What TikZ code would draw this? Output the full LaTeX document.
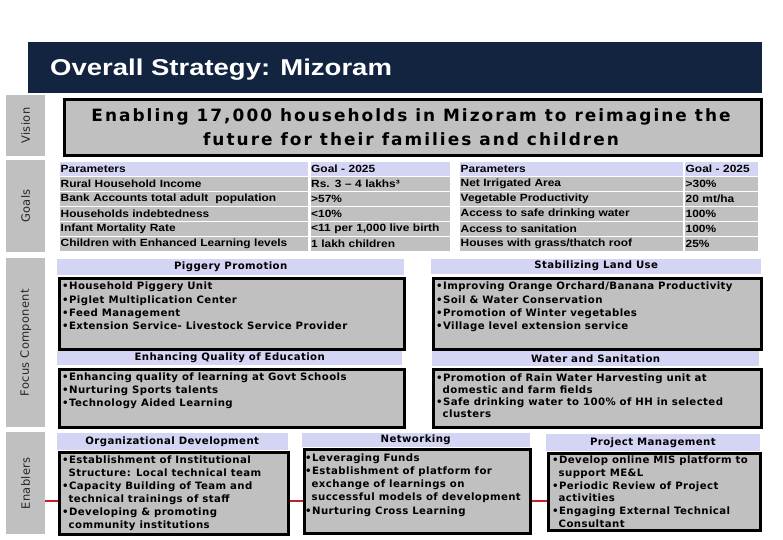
\documentclass[tikz,border=0pt]{standalone}
\usepackage{fontspec}
\setmainfont{DejaVu Sans}
\newfontfamily\titlef[FakeStretch=1.2]{Liberation Sans}
\newfontfamily\tabf[FakeStretch=1.14]{Liberation Sans}
\newfontfamily\visf[LetterSpace=12]{DejaVu Sans}
\newfontfamily\boxf[LetterSpace=4]{DejaVu Sans}
\newfontfamily\stripf[LetterSpace=3]{DejaVu Sans}
\definecolor{navy}{RGB}{18,36,64}
\definecolor{boxgray}{RGB}{192,192,192}
\definecolor{lav}{RGB}{212,212,245}
\definecolor{redline}{RGB}{200,30,40}
\begin{document}
\begin{tikzpicture}[x=1bp,y=-1bp,
  strip/.style={fill=boxgray, draw=none, anchor=north west, inner sep=0, minimum width=39bp},
  striplbl/.style={rotate=90, inner sep=0, text=black!85, font=\stripf\fontsize{11.5}{13}\selectfont},
  hdr/.style={fill=lav, draw=none, anchor=north west, inner sep=0, font=\boxf\bfseries\fontsize{10.2}{12}\selectfont},
  box/.style={fill=boxgray, draw=black, line width=3bp, anchor=north west, inner sep=0},
  btxt/.style={anchor=north west, align=left, inner sep=0, font=\boxf\bfseries\fontsize{10.2}{13.3}\selectfont},
  tcell/.style={anchor=north west, inner xsep=0.5bp, inner ysep=0, minimum height=14bp, align=left, font=\tabf\bfseries\fontsize{10.5}{12}\selectfont},
  hd/.style={tcell, fill=lav},
  rw/.style={tcell, fill=boxgray},
  conn/.style={draw=redline, line width=2.5bp}
]
\useasboundingbox (0,0) rectangle (783,540);

% title bar
\node[fill=navy, anchor=north west, inner sep=0, minimum width=734bp, minimum height=51bp] (titlebar) at (28,42) {};
\node[anchor=base west, inner sep=0, text=white, font=\titlef\bfseries\fontsize{23}{27}\selectfont] (title) at (50,76) {Overall Strategy: Mizoram};

% side strips
\node[strip, minimum height=61bp] (svision) at (6,95) {};
\node[striplbl] (lvision) at (svision.center) {Vision};
\node[strip, minimum height=92bp] (sgoals) at (6,160) {};
\node[striplbl] (lgoals) at (sgoals.center) {Goals};
\node[strip, minimum height=169bp] (sfocus) at (6,258) {};
\node[striplbl] (lfocus) at (sfocus.center) {Focus Component};
\node[strip, minimum height=102bp] (senab) at (6,432) {};
\node[striplbl] (lenab) at (senab.center) {Enablers};

% red connector behind enablers
\coordinate (redL) at (45,501);
\coordinate (redR) at (762,501);
\draw[conn] (redL) -- (redR);

% vision
\node[box, minimum width=697bp, minimum height=56bp] (visbox) at (62.5,98.5) {};
\node[align=center, inner sep=0, font=\visf\bfseries\fontsize{17}{23.5}\selectfont] (vistxt) at (411,127) {Enabling 17,000 households in Mizoram to reimagine the\\future for their families and children};

% goals left table
\node[hd, text width=247bp] (la0) at (60,162) {Parameters};
\node[hd, text width=138bp] (lb0) at (310.5,162) {Goal - 2025};
\node[rw, text width=247bp] (la1) at (60,177) {Rural Household Income};
\node[rw, text width=138bp] (lb1) at (310.5,177) {Rs. 3 – 4 lakhs³};
\node[rw, text width=247bp] (la2) at (60,192) {Bank Accounts total adult\ \ population};
\node[rw, text width=138bp] (lb2) at (310.5,192) {>57\%};
\node[rw, text width=247bp] (la3) at (60,207) {Households indebtedness};
\node[rw, text width=138bp] (lb3) at (310.5,207) {<10\%};
\node[rw, text width=247bp] (la4) at (60,222) {Infant Mortality Rate};
\node[rw, text width=138bp] (lb4) at (310.5,222) {<11 per 1,000 live birth};
\node[rw, text width=247bp] (la5) at (60,237) {Children with Enhanced Learning levels};
\node[rw, text width=138bp] (lb5) at (310.5,237) {1 lakh children};

% goals right table
\node[hd, text width=222bp] (ra0) at (460,162) {Parameters};
\node[hd, text width=72bp] (rb0) at (685,162) {Goal - 2025};
\node[rw, text width=222bp] (ra1) at (460,177) {Net Irrigated Area};
\node[rw, text width=72bp] (rb1) at (685,177) {>30\%};
\node[rw, text width=222bp] (ra2) at (460,192) {Vegetable Productivity};
\node[rw, text width=72bp] (rb2) at (685,192) {20 mt/ha};
\node[rw, text width=222bp] (ra3) at (460,207) {Access to safe drinking water};
\node[rw, text width=72bp] (rb3) at (685,207) {100\%};
\node[rw, text width=222bp] (ra4) at (460,222) {Access to sanitation};
\node[rw, text width=72bp] (rb4) at (685,222) {100\%};
\node[rw, text width=222bp] (ra5) at (460,237) {Houses with grass/thatch roof};
\node[rw, text width=72bp] (rb5) at (685,237) {25\%};

% focus components
\node[hdr, minimum width=347bp, minimum height=16bp] (pighdr) at (57,258.5) {Piggery Promotion};
\node[box, minimum width=345bp, minimum height=70bp] (pigbox) at (57.5,277.5) {};
\node[btxt] (pigtxt) at (62,282) {•Household Piggery Unit\\•Piglet Multiplication Center\\•Feed Management\\•Extension Service- Livestock Service Provider};

\node[hdr, minimum width=345bp, minimum height=14bp] (eduhdr) at (57,351) {Enhancing Quality of Education};
\node[box, minimum width=345bp, minimum height=58bp] (edubox) at (57.5,367.5) {};
\node[btxt] (edutxt) at (62,372.5) {•Enhancing quality of learning at Govt Schools\\•Nurturing Sports talents\\•Technology Aided Learning};

\node[hdr, minimum width=330bp, minimum height=15bp] (landhdr) at (431,258.5) {Stabilizing Land Use};
\node[box, minimum width=328.5bp, minimum height=70.5bp] (landbox) at (431.5,277.3) {};
\node[btxt] (landtxt) at (436,282) {•Improving Orange Orchard/Banana Productivity\\•Soil \& Water Conservation\\•Promotion of Winter vegetables\\•Village level extension service};

\node[hdr, minimum width=327bp, minimum height=14.5bp] (wathdr) at (432,351) {Water and Sanitation};
\node[box, minimum width=328.5bp, minimum height=57.3bp] (watbox) at (431.5,368.2) {};
\node[btxt, font=\boxf\bfseries\fontsize{10.2}{12}\selectfont] (wattxt) at (436,373.5) {•Promotion of Rain Water Harvesting unit at\\\hphantom{•}domestic and farm fields\\•Safe drinking water to 100\% of HH in selected\\\hphantom{•}clusters};

% enablers
\node[hdr, minimum width=231bp, minimum height=17.5bp] (orghdr) at (56.5,432.3) {Organizational Development};
\node[box, minimum width=229.7bp, minimum height=81.7bp] (orgbox) at (57.5,450.8) {};
\node[btxt, font=\boxf\bfseries\fontsize{10.2}{13}\selectfont] (orgtxt) at (62,456) {•Establishment of Institutional\\\hphantom{•}Structure: Local technical team\\•Capacity Building of Team and\\\hphantom{•}technical trainings of staff\\•Developing \& promoting\\\hphantom{•}community institutions};

\node[hdr, minimum width=227.6bp, minimum height=14.4bp] (nethdr) at (301.7,432.3) {Networking};
\node[box, minimum width=226bp, minimum height=83.6bp] (netbox) at (303.2,448.2) {};
\node[btxt, font=\boxf\bfseries\fontsize{10.2}{13.2}\selectfont] (nettxt) at (305,453.5) {•Leveraging Funds\\•Establishment of platform for\\\hphantom{•}exchange of learnings on\\\hphantom{•}successful models of development\\•Nurturing Cross Learning};

\node[hdr, minimum width=213.3bp, minimum height=17.7bp] (pmhdr) at (546,433.3) {Project Management};
\node[box, minimum width=212.7bp, minimum height=77.7bp] (pmbox) at (546.5,451.5) {};
\node[btxt, font=\boxf\bfseries\fontsize{10.2}{12.9}\selectfont] (pmtxt) at (552,455.5) {•Develop online MIS platform to\\\hphantom{•}support ME\&L\\•Periodic Review of Project\\\hphantom{•}activities\\•Engaging External Technical\\\hphantom{•}Consultant};
\end{tikzpicture}
\end{document}
